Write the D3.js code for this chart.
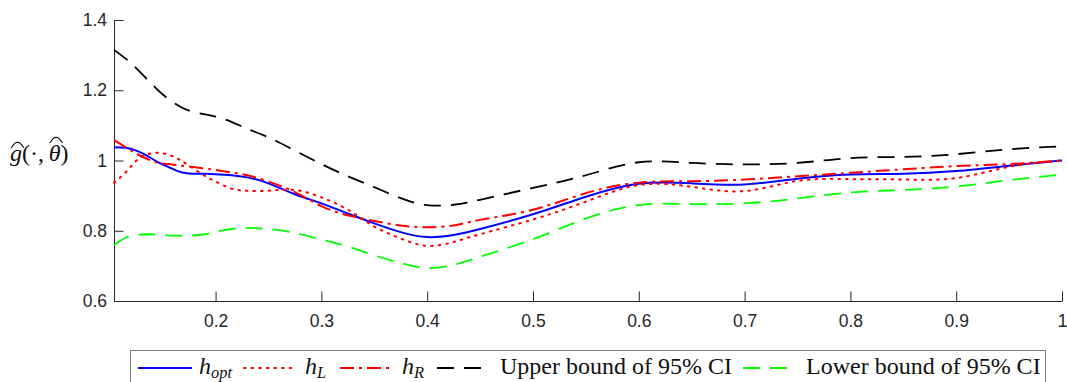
<!DOCTYPE html>
<html>
<head>
<meta charset="utf-8">
<script src="https://cdn.jsdelivr.net/npm/d3@7"></script>
<style>
  body { margin: 0; background: #fff; }
</style>
</head>
<body>
<div id="chart"></div>
<script>
const width = 1067;
const height = 382;

// bandwidth grid and estimates
const xs = [0.104, 0.115, 0.125, 0.135, 0.145, 0.155, 0.165, 0.175, 0.19, 0.2, 0.215, 0.23, 0.25, 0.275, 0.3, 0.325, 0.35, 0.375, 0.4, 0.425, 0.45, 0.5, 0.55, 0.6, 0.65, 0.7, 0.75, 0.8, 0.85, 0.9, 0.95, 1.0];
const hOpt = [1.038, 1.036, 1.028, 1.014, 0.996, 0.982, 0.969, 0.963, 0.962, 0.961, 0.958, 0.952, 0.935, 0.904, 0.878, 0.849, 0.821, 0.796, 0.782, 0.788, 0.805, 0.847, 0.897, 0.934, 0.935, 0.932, 0.948, 0.96, 0.962, 0.97, 0.985, 1.0];
const hL = [0.937, 0.966, 0.999, 1.017, 1.022, 1.017, 1.004, 0.985, 0.956, 0.94, 0.92, 0.914, 0.914, 0.916, 0.895, 0.86, 0.812, 0.778, 0.757, 0.768, 0.79, 0.832, 0.883, 0.93, 0.925, 0.913, 0.942, 0.947, 0.946, 0.95, 0.982, 1.0];
const hR = [1.058, 1.038, 1.02, 1.005, 0.994, 0.99, 0.986, 0.983, 0.977, 0.973, 0.966, 0.958, 0.94, 0.91, 0.87, 0.844, 0.828, 0.815, 0.81, 0.815, 0.831, 0.86, 0.907, 0.937, 0.941, 0.946, 0.955, 0.965, 0.975, 0.984, 0.99, 1.0];
const upper = [1.315, 1.29, 1.263, 1.232, 1.202, 1.176, 1.156, 1.142, 1.131, 1.125, 1.11, 1.09, 1.066, 1.028, 0.99, 0.955, 0.924, 0.893, 0.873, 0.874, 0.888, 0.922, 0.958, 0.995, 0.993, 0.989, 0.993, 1.007, 1.01, 1.018, 1.032, 1.04];
const lower = [0.759, 0.78, 0.788, 0.79, 0.789, 0.787, 0.786, 0.786, 0.79, 0.797, 0.805, 0.808, 0.805, 0.794, 0.775, 0.755, 0.73, 0.708, 0.694, 0.703, 0.726, 0.776, 0.835, 0.873, 0.876, 0.878, 0.892, 0.909, 0.916, 0.926, 0.944, 0.96];

const xTicks = [0.2, 0.3, 0.4, 0.5, 0.6, 0.7, 0.8, 0.9, 1];
const yTicks = [0.6, 0.8, 1, 1.2, 1.4];

const series = [
  { name: "hOpt", values: hOpt, color: "#0000ff", dash: null, w: 2 },
  { name: "hL", values: hL, color: "#ff0000", dash: "1.6,6", w: 2 },
  { name: "hR", values: hR, color: "#ff0000", dash: "14,5,3,5", w: 2 },
  { name: "upper", values: upper, color: "#000000", dash: "17,10", w: 1.8 },
  { name: "lower", values: lower, color: "#00ff00", dash: "17,10", w: 1.8 }
];

const margin = { left: 114, right: 5, top: 20, bottom: 81 };

const svg = d3
  .select("#chart")
  .append("svg")
  .attr("width", width)
  .attr("height", height);

const x = d3.scaleLinear().domain([0.104, 1]).range([margin.left, width - margin.right]);
const y = d3.scaleLinear().domain([0.6, 1.4]).range([height - margin.bottom, margin.top]);

const axisColor = "#262626";

// x axis, ticks pointing inward
const gx = svg
  .append("g")
  .attr("transform", `translate(0 ${y(0.6)})`)
  .call(d3.axisBottom(x).tickValues(xTicks).tickSize(-9.5).tickPadding(14).tickFormat(d3.format("")).tickSizeOuter(0));

// y axis
const gy = svg
  .append("g")
  .attr("transform", `translate(${x(0.104)} 0)`)
  .call(d3.axisLeft(y).tickValues(yTicks).tickSize(-9.5).tickPadding(7).tickFormat(d3.format("")).tickSizeOuter(0));

[gx, gy].forEach((g) => {
  g.attr("font-size", null).attr("font-family", null);
  g.select(".domain").attr("stroke", axisColor).attr("stroke-width", 1);
  g.selectAll(".tick line").attr("stroke", axisColor).attr("stroke-width", 1);
  g.selectAll(".tick text")
    .attr("fill", axisColor)
    .style("font-family", "Liberation Sans, Arial, sans-serif")
    .style("font-size", "17.5px");
});

// y label  g^(., theta^) with wide hats drawn over g and theta
const labBase = 161;
const ylab = svg
  .append("text")
  .attr("x", 10)
  .attr("y", labBase)
  .attr("font-family", "Liberation Serif, Times New Roman, serif")
  .attr("font-size", 24)
  .attr("fill", "#111");
ylab.append("tspan").attr("font-style", "italic").text("g");
ylab.append("tspan").text("(\u00b7,\u2009");
ylab.append("tspan").attr("font-style", "italic").text("\u03b8");
ylab.append("tspan").text(")");

const hat = (i, bottom, top, padL, padR) => {
  const e = ylab.node().getExtentOfChar(i);
  const x0 = e.x + padL;
  const x1 = e.x + e.width + padR;
  svg
    .append("path")
    .attr("d", `M${x0},${bottom} Q${(x0 + x1) / 2 - 2},${top - 1} ${(x0 + x1) / 2},${top} Q${(x0 + x1) / 2 + 2},${top - 1} ${x1},${bottom}`)
    .attr("fill", "none")
    .attr("stroke", "#111")
    .attr("stroke-width", 1.1);
};
hat(0, labBase - 13, labBase - 18.5, 1, 2);
hat(5, labBase - 18, labBase - 23.5, 1, 2);

const line = d3
  .line()
  .x((d) => x(d[0]))
  .y((d) => y(d[1]))
  .curve(d3.curveNatural);

svg
  .append("g")
  .selectAll("path")
  .data(series)
  .join("path")
  .attr("d", (s) => line(xs.map((v, i) => [v, s.values[i]])))
  .attr("fill", "none")
  .attr("stroke", (s) => s.color)
  .attr("stroke-width", (s) => s.w)
  .attr("stroke-dasharray", (s) => s.dash)
  .attr("stroke-linecap", (s) => (s.name === "hL" ? "round" : "butt"));

// legend
const legend = svg.append("g");
legend
  .append("rect")
  .attr("x", 130.5)
  .attr("y", 350.5)
  .attr("width", 915)
  .attr("height", 50)
  .attr("fill", "#fff")
  .attr("stroke", "#808080")
  .attr("stroke-width", 1);

const legendItems = [
  { s: series[0], x0: 138, x1: 192, tx: 199, label: ["h", "opt"] },
  { s: series[1], x0: 244, x1: 292, tx: 305, label: ["h", "L"] },
  { s: series[2], x0: 340, x1: 394, tx: 402, label: ["h", "R"] },
  { s: series[3], x0: 437, x1: 487, tx: 500, label: ["Upper bound of 95% CI"] },
  { s: series[4], x0: 743, x1: 793, tx: 806, label: ["Lower bound of 95% CI"] }
];

const ly = 368;
legendItems.forEach((it) => {
  legend
    .append("line")
    .attr("x1", it.x0)
    .attr("x2", it.x1)
    .attr("y1", ly)
    .attr("y2", ly)
    .attr("stroke", it.s.color)
    .attr("stroke-width", it.s.w)
    .attr("stroke-dasharray", it.s.dash)
    .attr("stroke-linecap", it.s.name === "hL" ? "round" : "butt");
  const t = legend
    .append("text")
    .attr("x", it.tx)
    .attr("y", 374)
    .attr("font-family", "Liberation Serif, Times New Roman, serif")
    .attr("font-size", 24)
    .attr("fill", "#111");
  if (it.label.length === 2) {
    t.append("tspan").attr("font-style", "italic").text(it.label[0]);
    t.append("tspan")
      .attr("font-style", "italic")
      .attr("font-size", 16.5)
      .attr("dy", 4)
      .text(it.label[1]);
  } else {
    t.text(it.label[0]);
  }
});
</script>
</body>
</html>
